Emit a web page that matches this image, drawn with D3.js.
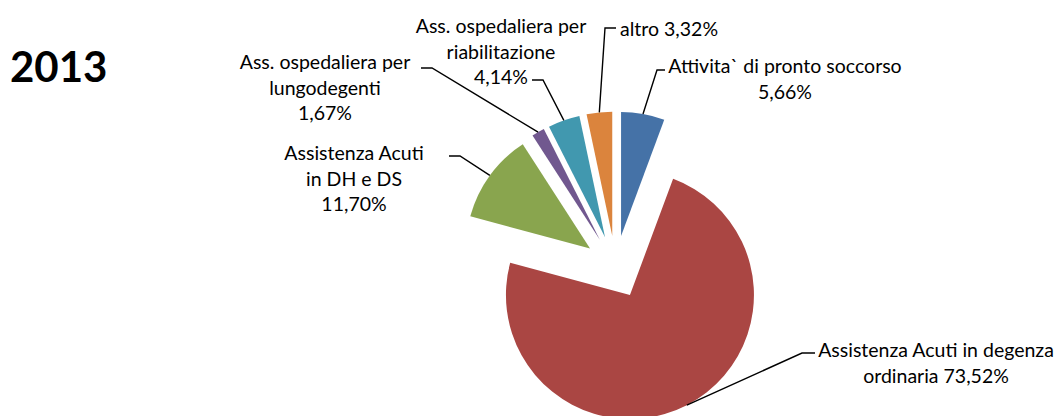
<!DOCTYPE html>
<html>
<head>
<meta charset="utf-8">
<script src="https://cdn.jsdelivr.net/npm/d3@7"></script>
<style>
  html, body { margin: 0; padding: 0; background: #fff; }
  svg { display: block; }
  text { font-family: Lato, "Open Sans", sans-serif; fill: #000; }
</style>
</head>
<body>
<svg id="chart" width="1057" height="416"></svg>
<script>
// ---- data ----
const title = "2013";
const categories = [
  "Attivita` di pronto soccorso",
  "Assistenza Acuti in degenza ordinaria",
  "Assistenza Acuti in DH e DS",
  "Ass. ospedaliera per lungodegenti",
  "Ass. ospedaliera per riabilitazione",
  "altro"
];
const values = [5.66, 73.52, 11.70, 1.67, 4.14, 3.32];
// label text broken into lines (percentage is appended to the last line or as its own line)
const labelLines = [
  ["Attivita` di pronto soccorso"],
  ["Assistenza Acuti in degenza", "ordinaria"],
  ["Assistenza Acuti", "in DH e DS"],
  ["Ass. ospedaliera per", "lungodegenti"],
  ["Ass. ospedaliera per", "riabilitazione"],
  ["altro"]
];
const pctOwnLine = [true, false, true, true, true, false];
const colors = ["#4572A7", "#AA4643", "#89A54E", "#71588F", "#4198AF", "#DB843D"];

// ---- layout ----
const W = 1057, H = 416;
const cx = 615.5, cy = 267, R = 124, explode = 31.5;
const fontSize = 19.5, lineH = 25.5;
// label layout: [centerX, firstBaseline, anchor]; leader: [elbowX, elbowY, endX, endY]
const labelPos = [
  [785, 73, "middle"],
  [936, 357, "middle"],
  [354, 160, "middle"],
  [325, 69, "middle"],
  [501, 33, "middle"],
  [620, 36, "start"]
];
const leaderPos = [
  [657, 70, 665, 70],
  [802, 353, 815, 353],
  [460, 156, 449, 156],
  [432, 68, 421, 68],
  [543, 80, 532, 80],
  [605, 28, 616, 28]
];

const locale = d3.formatLocale({decimal: ",", thousands: ".", grouping: [3], currency: ["", "€"]});
const fmt = v => locale.format(".2f")(v) + "%";

const svg = d3.select("#chart");

svg.append("text")
  .attr("x", 10).attr("y", 82)
  .attr("font-size", 42).attr("font-weight", 700)
  .text(title);

const pie = d3.pie().sort(null).value(d => d).startAngle(0).endAngle(2 * Math.PI);
const arcs = pie(values);
const arc = d3.arc().innerRadius(0).outerRadius(R);

const g = svg.append("g").attr("transform", `translate(${cx},${cy})`);

arcs.forEach((a, i) => {
  const mid = (a.startAngle + a.endAngle) / 2;
  const ox = explode * Math.sin(mid), oy = -explode * Math.cos(mid);
  g.append("path")
    .attr("d", arc(a))
    .attr("transform", `translate(${ox},${oy})`)
    .attr("fill", colors[i]);
});

// leader lines
arcs.forEach((a, i) => {
  const mid = (a.startAngle + a.endAngle) / 2;
  const px = cx + (explode + R) * Math.sin(mid);
  const py = cy - (explode + R) * Math.cos(mid);
  const lp = leaderPos[i];
  svg.append("path")
    .attr("d", d3.line()([[px, py], [lp[0], lp[1]], [lp[2], lp[3]]]))
    .attr("fill", "none")
    .attr("stroke", "#000")
    .attr("stroke-width", 1.4);
});

// labels
arcs.forEach((a, i) => {
  const lines = labelLines[i].slice();
  const pct = fmt(values[i]);
  if (pctOwnLine[i]) lines.push(pct);
  else lines[lines.length - 1] = lines[lines.length - 1] + " " + pct;
  const [x, y, anchor] = labelPos[i];
  const t = svg.append("text")
    .attr("x", x).attr("y", y)
    .attr("font-size", fontSize)
    .attr("text-anchor", anchor);
  lines.forEach((ln, k) => {
    t.append("tspan").attr("x", x).attr("y", y + k * lineH).text(ln);
  });
});
</script>
</body>
</html>
